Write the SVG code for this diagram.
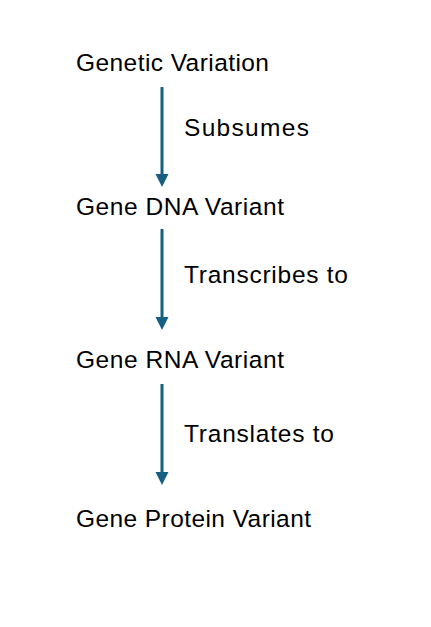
<svg xmlns="http://www.w3.org/2000/svg" width="431" height="627" viewBox="0 0 431 627">
<defs>
<style>
.t{font-family:"Liberation Sans",Arial,sans-serif;font-size:24.5px;fill:#000}
.c{stroke:#156082;stroke-width:3;fill:none}
.h{fill:#156082}
</style>
</defs>
<rect width="431" height="627" fill="#fff"/>
<g id="connectors">
<line class="c" x1="162" y1="87" x2="162" y2="176"/>
<polygon class="h" points="155.5,174 168.5,174 162,187"/>
<text class="t" x="184" y="136" textLength="125">Subsumes</text>
<line class="c" x1="162" y1="229" x2="162" y2="319"/>
<polygon class="h" points="155.5,317 168.5,317 162,330"/>
<text class="t" x="184" y="283" textLength="164">Transcribes to</text>
<line class="c" x1="162" y1="384" x2="162" y2="474"/>
<polygon class="h" points="155.5,472 168.5,472 162,485"/>
<text class="t" x="184" y="442" textLength="150">Translates to</text>
</g>
<g id="genetic-variation"><text class="t" x="76" y="71" textLength="193">Genetic Variation</text></g>
<g id="gene-dna-variant"><text class="t" x="76" y="215" textLength="208">Gene DNA Variant</text></g>
<g id="gene-rna-variant"><text class="t" x="76" y="368" textLength="208">Gene RNA Variant</text></g>
<g id="gene-protein-variant"><text class="t" x="76" y="527" textLength="235">Gene Protein Variant</text></g>
</svg>
